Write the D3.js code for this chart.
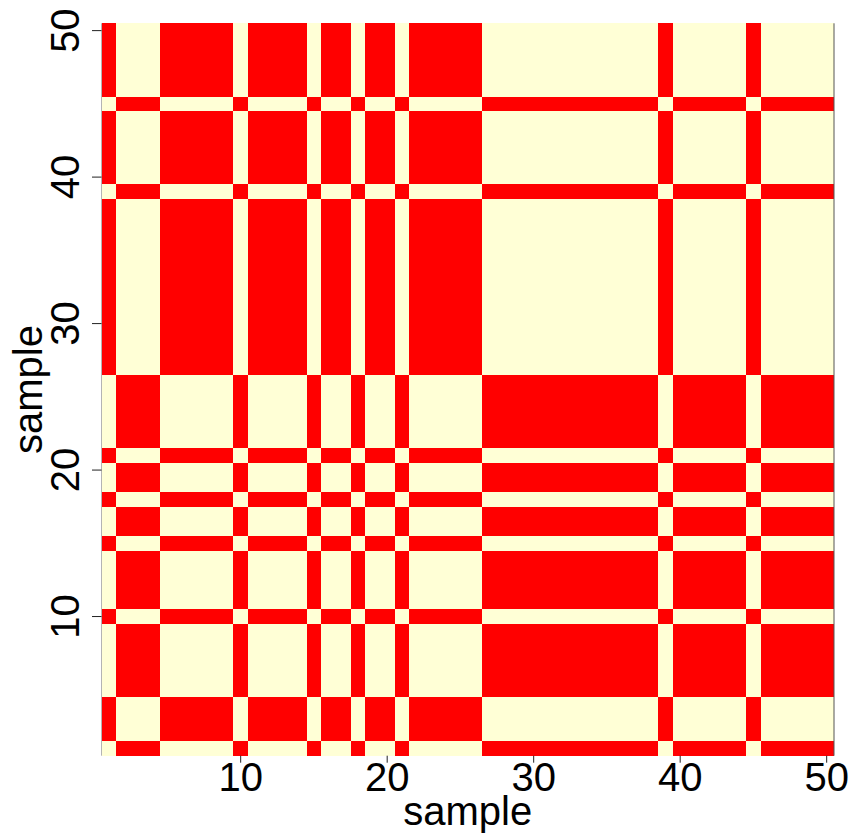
<!DOCTYPE html>
<html>
<head>
<meta charset="utf-8">
<script src="https://cdn.jsdelivr.net/npm/d3@7"></script>
<style>
  html, body { margin: 0; padding: 0; background: #fff; }
  svg { display: block; }
  text { font-family: "Liberation Sans", Arial, Helvetica, sans-serif; fill: #000; }
</style>
</head>
<body>
<svg id="chart" width="854" height="838"></svg>
<script>
// Cluster assignment of each of the 50 samples (sample 1 .. 50)
const samples = d3.range(1, 51);
const sampleCluster = [
  2,1,1,1,2,2,2,2,2,1,
  2,2,2,2,1,2,2,1,2,2,
  1,2,2,2,2,2,1,1,1,1,
  1,1,1,1,1,1,1,1,2,1,
  1,1,1,1,2,1,1,1,1,1
];
const tickValues = [10, 20, 30, 40, 50];
const axisTitle = "sample";
const palette = ["#FF0000", "#FFFFD6"]; // different cluster, same cluster

// Co-membership matrix: 1 when two samples share a cluster
const cells = [];
samples.forEach((si, i) => {
  samples.forEach((sj, j) => {
    cells.push({ x: si, y: sj, v: sampleCluster[i] === sampleCluster[j] ? 1 : 0 });
  });
});

const svg = d3.select("#chart");
const plot = { left: 101.5, right: 834, top: 23.3, bottom: 755.7 };

const x = d3.scaleBand().domain(samples).range([plot.left, plot.right]).paddingInner(0).paddingOuter(0);
const y = d3.scaleBand().domain(samples).range([plot.bottom, plot.top]).paddingInner(0).paddingOuter(0);
const color = d3.scaleOrdinal().domain([0, 1]).range(palette);

// Heatmap cells
svg.append("g")
  .selectAll("rect")
  .data(cells)
  .join("rect")
  .attr("x", d => x(d.x))
  .attr("y", d => y(d.y))
  .attr("width", x.bandwidth())
  .attr("height", y.bandwidth())
  .attr("fill", d => color(d.v))
  .attr("shape-rendering", "crispEdges");

// Plot edges
svg.append("line")
  .attr("x1", plot.left).attr("x2", plot.left)
  .attr("y1", plot.top).attr("y2", plot.bottom)
  .attr("stroke", "#b4b4b4").attr("stroke-width", 1);
svg.append("line")
  .attr("x1", plot.right).attr("x2", plot.right)
  .attr("y1", plot.top).attr("y2", plot.bottom)
  .attr("stroke", "#555").attr("stroke-width", 1);

// Bottom axis
const xAxis = svg.append("g")
  .attr("transform", `translate(0,${plot.bottom})`)
  .call(d3.axisBottom(x).tickValues(tickValues).tickSize(7).tickSizeOuter(0));
xAxis.select(".domain").remove();
xAxis.selectAll(".tick line").attr("stroke", "#222");
xAxis.selectAll(".tick text")
  .attr("y", 35.5).attr("dy", 0)
  .style("font-size", "40px")
  .style("font-family", '"Liberation Sans", Arial, sans-serif')
  .attr("fill", "#000");

// Left axis with labels parallel to the axis
const yAxis = svg.append("g")
  .attr("transform", `translate(${plot.left},0)`)
  .call(d3.axisLeft(y).tickValues(tickValues).tickSize(9.5).tickSizeOuter(0));
yAxis.select(".domain").remove();
yAxis.selectAll(".tick line").attr("stroke", "#222");
yAxis.selectAll(".tick text")
  .attr("x", null).attr("dy", 0)
  .attr("transform", "translate(-23,0) rotate(-90)")
  .attr("text-anchor", "middle")
  .style("font-size", "40px")
  .style("font-family", '"Liberation Sans", Arial, sans-serif')
  .attr("fill", "#000");

// Axis titles
svg.append("text")
  .attr("x", (plot.left + plot.right) / 2)
  .attr("y", 825)
  .attr("text-anchor", "middle")
  .style("font-size", "40px")
  .text(axisTitle);

svg.append("text")
  .attr("transform", `translate(42,${(plot.top + plot.bottom) / 2}) rotate(-90)`)
  .attr("text-anchor", "middle")
  .style("font-size", "40px")
  .text(axisTitle);
</script>
</body>
</html>
